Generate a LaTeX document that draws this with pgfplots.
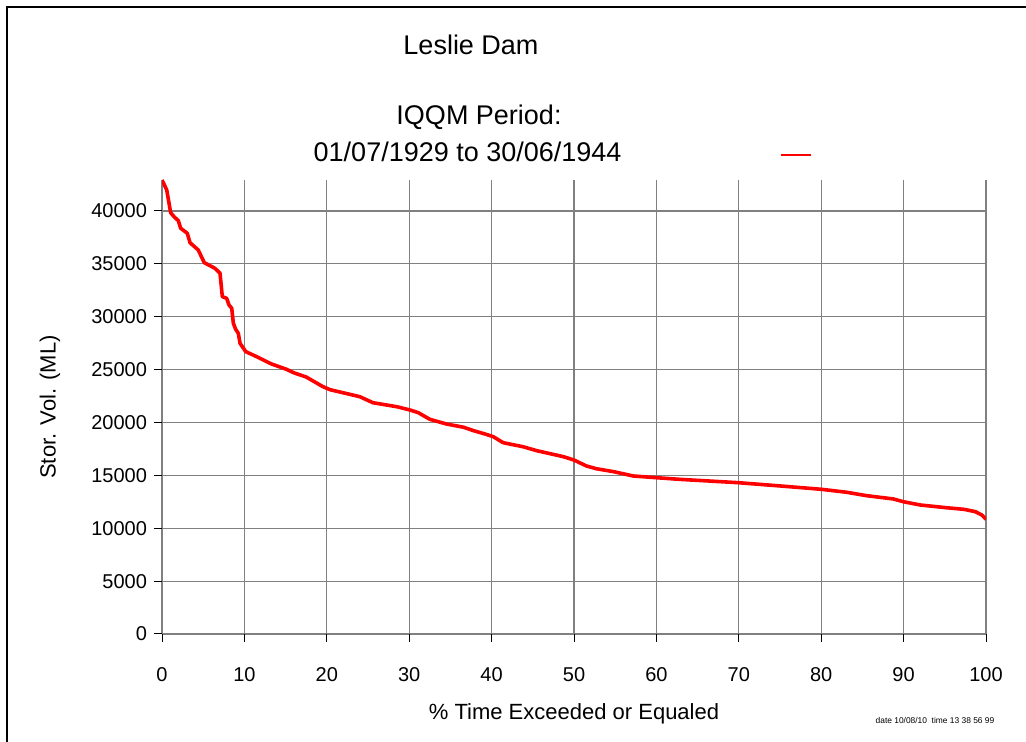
\documentclass[border=0pt]{standalone}
\usepackage{fontspec}
\setmainfont{Liberation Sans}
\usepackage{pgfplots}
\pgfplotsset{compat=1.18}

\begin{document}
\begin{tikzpicture}
% page frame: 1026 x 742 px at 0.5pt per px
\useasboundingbox (0,0) rectangle (513pt,371pt);
\draw[line width=1pt] (3.5pt,0pt) -- (3.5pt,367.3pt) -- (513pt,367.3pt);

\node[font=\fontsize{13.5}{16}\selectfont] at (235.5pt,348.5pt) {Leslie Dam};
\node[font=\fontsize{13.5}{16}\selectfont] at (239.5pt,312.5pt) {IQQM Period:};
\node[font=\fontsize{13.5}{16}\selectfont] at (233.8pt,295pt) {01/07/1929 to 30/06/1944};
\node[font=\fontsize{4.2}{5}\selectfont] at (467.5pt,10.5pt) {date 10/08/10\ \ time 13 38 56 99};

\begin{axis}[
    at={(81pt,54pt)}, anchor=south west,
    width=412pt, height=227pt,
    scale only axis,
    xmin=0, xmax=100,
    ymin=0, ymax=42930,
    xtick={0,10,...,100},
    ytick={0,5000,...,40000},
    scaled y ticks=false,
    tick pos=left,
    axis line style={draw=none},
    grid=major,
    grid style={gray, line width=0.6pt},
    tick align=outside,
    major tick length=4pt,
    tick style={black, line width=0.5pt},
    tick label style={font=\fontsize{10}{12}\selectfont},
    /pgf/number format/1000 sep={},
    /pgf/number format/assume math mode=true,
    xticklabel style={yshift=-9pt},
    xlabel={\% Time Exceeded or Equaled},
    ylabel={Stor. Vol. (ML)},
    label style={font=\fontsize{11}{13}\selectfont},
    xlabel style={at={(axis description cs:0.5,-0.176)}, anchor=center},
    ylabel style={at={(axis description cs:-0.136,0.5)}, anchor=center},
    legend style={at={(axis description cs:0.75,1.055)}, anchor=west,
        draw=none, fill=none, inner sep=0pt},
    legend image code/.code={\draw[red, line width=0.8pt] (0pt,0pt) -- (15pt,0pt);},
]
\addplot[red, line width=1.8pt, line join=round] coordinates {
(0,42930)(0.57,42000)(0.85,40760)(1.05,39840)(1.46,39460)(1.98,39080)
(2.27,38360)(3.07,37890)(3.4,37000)(4.4,36310)(5.13,35110)(6.43,34580)
(7.04,34110)(7.32,31900)(7.85,31740)(8.13,31110)(8.46,30800)(8.66,29380)
(8.94,28810)(9.26,28430)(9.47,27490)(10.16,26700)(11.5,26220)(12.7,25750)
(13.3,25530)(15.1,25030)(16,24700)(17.5,24300)(19.5,23400)(20.4,23100)
(24.0,22440)(25.6,21870)(28.5,21490)(30.1,21180)(31.1,20930)(32.5,20300)
(34.5,19860)(36.6,19550)(37.8,19230)(39.2,18910)(40.2,18660)(41.4,18090)
(43.8,17710)(45.5,17330)(48.7,16770)(50.0,16450)(51.5,15890)(52.7,15630)
(54.8,15350)(57.2,14940)(60.0,14780)(62.9,14620)(69.9,14310)(75.0,14000)
(80.05,13680)(83.1,13400)(85.5,13080)(88.75,12770)(89.96,12510)(92.0,12200)
(95.2,11940)(97.3,11790)(98.7,11570)(99.5,11250)(100,10850)
};
\addlegendentry{}
\end{axis}
\end{tikzpicture}
\end{document}
